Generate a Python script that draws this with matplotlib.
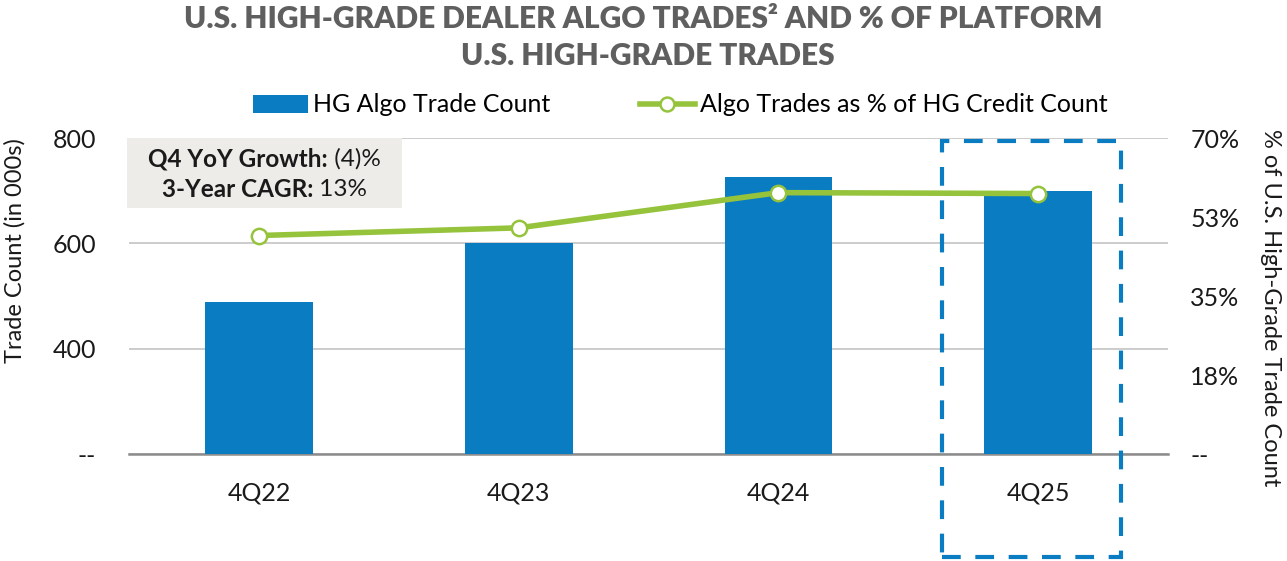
import matplotlib
matplotlib.use("Agg")
import matplotlib.pyplot as plt
from matplotlib.patches import Rectangle
from matplotlib.lines import Line2D
from matplotlib.patches import Patch

plt.rcParams['font.family'] = ['Lato', 'DejaVu Sans']

# data
quarters = ['4Q22', '4Q23', '4Q24', '4Q25']
algo_trades = [488, 600, 726, 699]          # HG algo trade count (000s)
algo_pct = [48.4, 50.1, 57.9, 57.7]          # % of HG credit trade count
left_ticks = [200, 400, 600, 800]
left_labels = ['--', '400', '600', '800']
right_ticks = [0, 17.5, 35, 52.5, 70]
right_labels = ['--', '18%', '35%', '53%', '70%']
callout = [('Q4 YoY Growth:', ' (4)%'), ('3-Year CAGR:', ' 13%')]

BLUE = '#0A7CC2'
GREEN = '#96C33C'
TITLE_GRAY = '#5F5F5F'
INK = '#1a1a1a'

fig = plt.figure(figsize=(12.87, 5.61), dpi=100)
ax = fig.add_axes([0.1005, 0.1907, 0.807, 0.5633])
ax2 = ax.twinx()

x = range(len(quarters))
ax.bar(x, algo_trades, width=0.415, color=BLUE, zorder=3)
ax.set_ylim(200, 800)
ax.set_xlim(-0.5, 3.5)
ax.set_yticks(left_ticks)
ax.set_yticklabels(left_labels)
ax.set_xticks(list(x))
ax.set_xticklabels(quarters)
ax.grid(axis='y', color='#C8C8C8', linewidth=1.3, zorder=0)
for s in ['top', 'left', 'right']:
    ax.spines[s].set_visible(False)
ax.spines['bottom'].set_color('#8C8C8C')
ax.spines['bottom'].set_linewidth(1.8)
ax.tick_params(axis='y', length=0, pad=24, labelsize=18, labelcolor=INK)
ax.tick_params(axis='x', length=0, pad=20, labelsize=18, labelcolor=INK)

ax2.plot(list(x), algo_pct, color=GREEN, linewidth=4, marker='o', markersize=11,
         markerfacecolor='white', markeredgecolor=GREEN, markeredgewidth=1.8, zorder=5)
ax2.set_ylim(0, 70)
ax2.set_yticks(right_ticks)
ax2.set_yticklabels(right_labels)
for s in ['top', 'left', 'right', 'bottom']:
    ax2.spines[s].set_visible(False)
ax2.tick_params(axis='y', length=0, pad=16, labelsize=18, labelcolor=INK)

# dashed highlight around 4Q25
box = Rectangle((2.63, -0.325), 0.69, 1.315, transform=ax.get_xaxis_transform(),
                fill=False, edgecolor=BLUE, linewidth=3, linestyle=(0, (4.5, 3.5)),
                clip_on=False, zorder=6)
ax.add_patch(box)

# growth callout
fig.patches.append(Rectangle((127 / 1287, 1 - 208 / 561), 275 / 1287, 70 / 561,
                             transform=fig.transFigure, facecolor='#EDECE8',
                             edgecolor='none', zorder=4))
renderer = fig.canvas.get_renderer()
for i, (bold_part, plain_part) in enumerate(callout):
    yy = 1 - (159 + 31 * i) / 561
    t1 = fig.text(0, yy, bold_part, ha='left', va='center', fontsize=17.5,
                  fontweight='bold', color=INK, zorder=5)
    t2 = fig.text(0, yy, plain_part, ha='left', va='center', fontsize=17.5,
                  color=INK, zorder=5)
    w1 = t1.get_window_extent(renderer).width / 1287
    w2 = t2.get_window_extent(renderer).width / 1287
    x0 = 264.5 / 1287 - (w1 + w2) / 2
    t1.set_x(x0)
    t2.set_x(x0 + w1)

fig.text(0.5, 1 - 19 / 561, 'U.S. HIGH-GRADE DEALER ALGO TRADES\u00b2 AND % OF PLATFORM',
         ha='center', va='center', fontsize=21.5, fontweight='heavy', color=TITLE_GRAY)
fig.text(0.503, 1 - 56 / 561, 'U.S. HIGH-GRADE TRADES',
         ha='center', va='center', fontsize=21.5, fontweight='heavy', color=TITLE_GRAY)

fig.text(15 / 1287, 1 - 251 / 561, 'Trade Count (in 000s)', rotation=90,
         ha='center', va='center', fontsize=17, color=INK)
fig.text(1270 / 1287, 1 - 308 / 561, '% of U.S. High-Grade Trade Count', rotation=270,
         ha='center', va='center', fontsize=17, color=INK)

handles = [Patch(facecolor=BLUE, edgecolor='none'),
           Line2D([0], [0], color=GREEN, linewidth=4, marker='o', markersize=10,
                  markerfacecolor='white', markeredgecolor=GREEN, markeredgewidth=1.8)]
fig.legend(handles, ['HG Algo Trade Count', 'Algo Trades as % of HG Credit Count'],
           loc='center', bbox_to_anchor=(680 / 1287, 1 - 105 / 561), ncol=2, frameon=False,
           fontsize=18, handlelength=2.2, handleheight=0.7, handletextpad=0.2,
           columnspacing=3.6)

fig.savefig('out.png', dpi=100)
